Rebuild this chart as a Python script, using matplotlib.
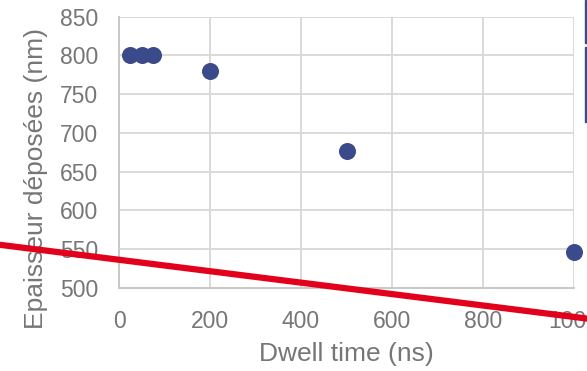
import matplotlib
matplotlib.use("Agg")
import matplotlib.pyplot as plt
from matplotlib.patches import Rectangle

plt.rcParams['font.family'] = ['Liberation Sans', 'DejaVu Sans']

# Measured deposit thickness versus dwell time
dwell_ns = [25, 50, 75, 200, 500, 1000]
thickness_nm = [800, 801, 800, 780, 676, 546]

# Straight reference line (end points in data units)
ref_x = [-262, 1030]
ref_y = [555.7, 460.5]

x_ticks = [0, 200, 400, 600, 800, 1000]
y_ticks = [500, 550, 600, 650, 700, 750, 800, 850]

text_grey = '#767676'
grid_grey = '#d9d9d9'
dot_blue = '#3a4a8a'
line_red = '#e2001a'

fig = plt.figure(figsize=(5.87, 3.71), dpi=100)
ax = fig.add_axes([119 / 587, 1 - 288 / 371, 455 / 587, (288 - 16.5) / 371])

ax.set_xlim(0, 1000)
ax.set_ylim(500, 850)
ax.set_xticks(x_ticks)
ax.set_yticks(y_ticks)
ax.grid(True, color=grid_grey, linewidth=1.4)
ax.set_axisbelow(True)
for side in ['top', 'right']:
    ax.spines[side].set_visible(False)
for side in ['left', 'bottom']:
    ax.spines[side].set_color('#c8c8c8')
    ax.spines[side].set_linewidth(1.4)
ax.tick_params(length=0, labelsize=16.5, colors=text_grey)
ax.tick_params(axis='y', pad=15)
ax.tick_params(axis='x', pad=16)

ax.scatter(dwell_ns, thickness_nm, s=150, color=dot_blue, zorder=3,
           linewidths=0, clip_on=False)
ax.plot(ref_x, ref_y, color=line_red, linewidth=4.5, clip_on=False,
        solid_capstyle='butt', zorder=4)

ax.set_xlabel('Dwell time (ns)', fontsize=19, color=text_grey)
ax.set_ylabel('Epaisseur déposées (nm)', fontsize=19, color=text_grey)
ax.xaxis.set_label_coords(0.5, -0.243)
ax.xaxis.label.set_va('center')
ax.yaxis.set_label_coords(-0.1824, 0.405)
ax.yaxis.label.set_va('center')
ax.yaxis.label.set_ha('center')

# Edge of the legend panel at the right border
fig.patches.append(Rectangle((585 / 587, 1 - 43 / 371), 2 / 587, 43 / 371,
                             transform=fig.transFigure, color=dot_blue))
fig.patches.append(Rectangle((585 / 587, 1 - 122 / 371), 2 / 587, 75 / 371,
                             transform=fig.transFigure, color=dot_blue))

fig.savefig('out.png', dpi=100)
